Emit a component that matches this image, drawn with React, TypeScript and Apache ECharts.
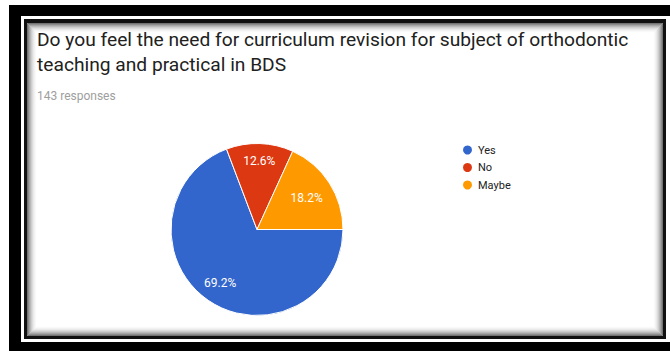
import React, { useEffect, useRef } from "react";
import * as echarts from "echarts";

const titleLines = [
  "Do you feel the need for curriculum revision for subject of orthodontic",
  "teaching and practical in BDS",
];
const responsesText = "143 responses";
const categories = ["Yes", "No", "Maybe"];
const counts = [99, 18, 26];
const colors = ["#3366cc", "#dc3912", "#ff9900"];
// radial distance of each percentage label from the pie centre (px)
const labelDistances = [62, 66, 56];

const CX = 257;
const CY = 229.5;
const R = 86;

function frameGraphics() {
  const g: any[] = [
    { type: "rect", shape: { x: 9, y: 5, width: 700, height: 346 }, style: { fill: "#000" }, silent: true, z: -10 },
    { type: "rect", shape: { x: 21, y: 16, width: 660, height: 326 }, style: { fill: "#fff" }, silent: true, z: -9 },
    { type: "rect", shape: { x: 24, y: 19, width: 642, height: 320 }, style: { fill: "#111" }, silent: true, z: -8 },
    { type: "rect", shape: { x: 27, y: 23, width: 636, height: 313 }, style: { fill: "#fff" }, silent: true, z: -7 },
  ];
  const steps = 10;
  for (let i = 0; i < steps; i++) {
    const a = 0.55 * Math.pow(1 - i / steps, 2);
    g.push({
      type: "rect",
      shape: { x: 27.5 + i, y: 23.5 + i, width: 635 - 2 * i, height: 312 - 2 * i },
      style: { fill: null, stroke: `rgba(0,0,0,${a.toFixed(3)})`, lineWidth: 1 },
      silent: true,
      z: -6,
    });
  }
  return g;
}

export default function App() {
  const ref = useRef<HTMLDivElement>(null);
  useEffect(() => {
    if (!ref.current) return;
    const chart = echarts.init(ref.current, null, { renderer: "svg" });
    const total = counts.reduce((a, b) => a + b, 0);
    const data = categories.map((name, i) => ({
      name,
      value: counts[i],
      itemStyle: { color: colors[i] },
    }));
    const labelSeries = categories.map((_, idx) => ({
      type: "pie",
      center: [CX, CY],
      radius: [0, labelDistances[idx] * 2],
      startAngle: 0,
      clockwise: true,
      silent: true,
      legendHoverLink: false,
      z: 5,
      itemStyle: { color: "rgba(0,0,0,0)", borderWidth: 0 },
      labelLine: { show: false },
      emphasis: { disabled: true },
      data: categories.map((name, i) => ({
        name,
        value: counts[i],
        itemStyle: { color: "rgba(0,0,0,0)" },
        label: {
          show: i === idx,
          position: "inside",
          formatter: () => ((counts[i] / total) * 100).toFixed(1) + "%",
          color: "#ffffff",
          fontSize: 12,
          fontFamily: "Roboto",
        },
      })),
    }));
    chart.setOption({
      animation: false,
      backgroundColor: "#fff",
      graphic: frameGraphics(),
      title: [
        {
          text: titleLines.join("\n"),
          left: 37,
          top: 27,
          textStyle: {
            fontFamily: "Roboto",
            fontSize: 19.2,
            fontWeight: "normal",
            color: "#212121",
            lineHeight: 25,
          },
          padding: 0,
        },
        {
          text: responsesText,
          left: 37,
          top: 89.5,
          textStyle: {
            fontFamily: "Roboto",
            fontSize: 12,
            fontWeight: "normal",
            color: "#9e9e9e",
            lineHeight: 12,
          },
          padding: 0,
        },
      ],
      legend: {
        orient: "vertical",
        left: 461,
        top: 143.5,
        padding: 0,
        itemWidth: 11,
        itemHeight: 11,
        itemGap: 4.5,
        icon: "circle",
        selectedMode: false,
        data: categories,
        textStyle: {
          fontFamily: "Roboto",
          fontSize: 11,
          color: "#222",
          lineHeight: 11,
          height: 11,
        },
      },
      series: [
        {
          type: "pie",
          center: [CX, CY],
          radius: [0, R],
          startAngle: 0,
          clockwise: true,
          z: 2,
          itemStyle: { borderColor: "#fff", borderWidth: 1 },
          label: { show: false },
          labelLine: { show: false },
          emphasis: { disabled: true },
          data,
        },
        ...labelSeries,
      ],
    });
    return () => chart.dispose();
  }, []);
  return (
    <div
      ref={ref}
      style={{ position: "fixed", left: 0, top: 0, width: 670, height: 351 }}
    />
  );
}
